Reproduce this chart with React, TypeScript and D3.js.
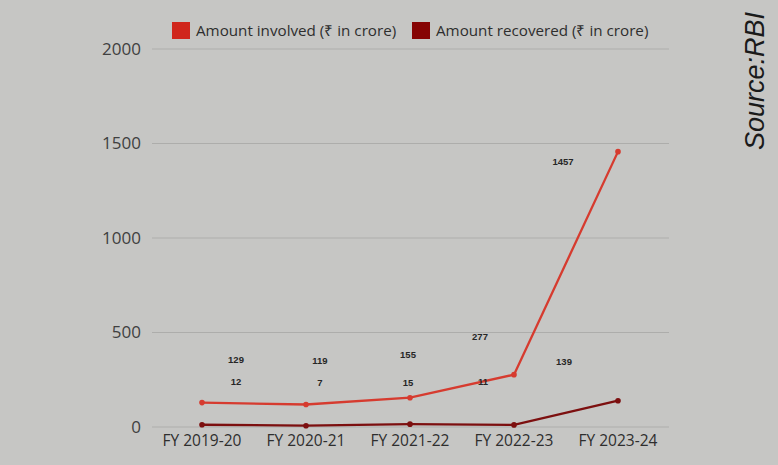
import React from "react";
import * as d3 from "d3";

const categories = ["FY 2019-20", "FY 2020-21", "FY 2021-22", "FY 2022-23", "FY 2023-24"];
const involved = [129, 119, 155, 277, 1457];
const recovered = [12, 7, 15, 11, 139];
const yTicks = [0, 500, 1000, 1500, 2000];
const seriesNames = ["Amount involved (₹ in crore)", "Amount recovered (₹ in crore)"];

// label placement (layout): pixel offset in x from point, label centre in value units
const involvedLabelLayout = [
  { dx: 34, v: 354 },
  { dx: 14, v: 349 },
  { dx: -2, v: 381 },
  { dx: -34, v: 476 },
  { dx: -55, v: 1402 },
];
const recoveredLabelLayout = [
  { dx: 34, v: 238 },
  { dx: 14, v: 233 },
  { dx: -2, v: 233 },
  { dx: -31, v: 238 },
  { dx: -54, v: 344 },
];

const W = 778;
const H = 465;
const BG = "#c6c6c4";
const RED = "#d63b2f";
const DARK = "#7c0f0f";
const LEG_RED = "#d0261c";
const LEG_DARK = "#860404";

export default function App() {
  const x = d3.scalePoint<string>().domain(categories).range([202, 618]);
  const y = d3.scaleLinear().domain([0, 2000]).range([427, 49]);
  const line = d3
    .line<number>()
    .x((_, i) => x(categories[i]) as number)
    .y((d) => y(d));

  const series = [
    { values: involved, color: RED, layout: involvedLabelLayout },
    { values: recovered, color: DARK, layout: recoveredLabelLayout },
  ];

  return (
    <div style={{ position: "absolute", left: 0, top: 0 }}>
      <svg width={W} height={H} style={{ display: "block", background: BG }}>
        <rect x={0} y={0} width={W} height={H} fill={BG} />
        {yTicks.map((t) => (
          <g key={t}>
            <line x1={152} x2={669} y1={y(t)} y2={y(t)} stroke="#adadab" strokeWidth={1.2} />
            <text
              x={141}
              y={y(t)}
              dy="0.35em"
              textAnchor="end"
              fontFamily="'Open Sans', sans-serif"
              fontSize={17}
              fill="#404040"
            >
              {t}
            </text>
          </g>
        ))}
        {categories.map((c) => (
          <text
            key={c}
            x={x(c) as number}
            y={446}
            textAnchor="middle"
            fontFamily="'Open Sans', sans-serif"
            fontSize={15.5}
            fill="#2e2e2e"
          >
            {c}
          </text>
        ))}
        {series.map((s, si) => (
          <g key={si}>
            <path d={line(s.values) || ""} fill="none" stroke={s.color} strokeWidth={2.3} />
            {s.values.map((v, i) => (
              <circle key={i} cx={x(categories[i]) as number} cy={y(v)} r={2.8} fill={s.color} />
            ))}
            {s.values.map((v, i) => (
              <text
                key={"l" + i}
                x={(x(categories[i]) as number) + s.layout[i].dx}
                y={y(s.layout[i].v)}
                dy="0.35em"
                textAnchor="middle"
                fontFamily="'Liberation Sans', Arial, sans-serif"
                fontWeight="bold"
                fontSize={9.5}
                fill="#262626"
              >
                {v}
              </text>
            ))}
          </g>
        ))}
        {/* legend */}
        <rect x={172} y={22} width={18} height={17} fill={LEG_RED} />
        <text x={196} y={31} dy="0.35em" fontFamily="'Open Sans', sans-serif" fontSize={15.2} fill="#2e2e2e">
          {seriesNames[0]}
        </text>
        <rect x={412} y={22} width={18} height={17} fill={LEG_DARK} />
        <text x={436} y={31} dy="0.35em" fontFamily="'Open Sans', sans-serif" fontSize={15.2} fill="#2e2e2e">
          {seriesNames[1]}
        </text>
        <text
          transform="translate(764,81) rotate(-90)"
          textAnchor="middle"
          fontFamily="'Liberation Sans', Arial, sans-serif"
          fontStyle="italic"
          fontSize={27}
          fill="#1a1a1a"
        >
          Source:RBI
        </text>
      </svg>
    </div>
  );
}
